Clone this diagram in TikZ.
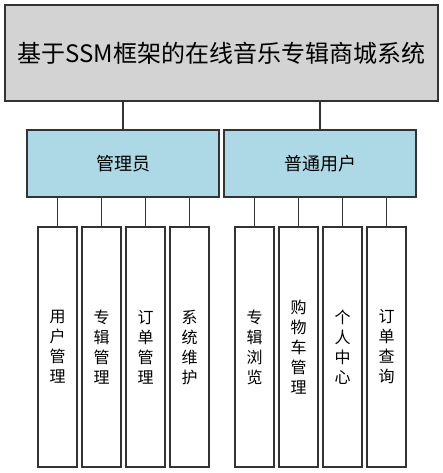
\documentclass[tikz,border=0pt]{standalone}
\usepackage{fontspec}
\setmainfont{Noto Sans CJK SC}
\usetikzlibrary{positioning}
\definecolor{boxgray}{RGB}{211,211,211}
\definecolor{boxblue}{RGB}{173,216,230}
\definecolor{linegray}{RGB}{51,51,51}

\begin{document}
\begin{tikzpicture}[x=1pt,y=-1pt,
  sysbox/.style={draw=linegray, line width=1.2pt, fill=boxgray, minimum width=433pt, minimum height=96pt, inner sep=0pt, font=\fontsize{24}{28}\selectfont},
  rolebox/.style={draw=linegray, line width=1.2pt, fill=boxblue, minimum width=192pt, minimum height=67pt, inner sep=0pt, font=\fontsize{18}{22}\selectfont},
  funcbox/.style={draw=linegray, line width=1.2pt, fill=white, minimum width=39pt, minimum height=240pt, inner sep=0pt, align=center, font=\fontsize{16}{20}\selectfont},
  link/.style={draw=linegray, line width=1.2pt}]
\useasboundingbox (0,0) rectangle (443,473);

% System
\node[sysbox] (sys) at (221.5,53) {基于SSM框架的在线音乐专辑商城系统};

% Roles
\node[rolebox] (admin) at (123,163.5) {管理员};
\node[rolebox] (user) at (320,163.5) {普通用户};
\draw[link] (admin.north) -- (admin.north |- sys.south);
\draw[link] (user.north) -- (user.north |- sys.south);

% Functions
\foreach \name/\x/\txt/\role in {
    usermgr/57.5/{用\\户\\管\\理}/admin,
    albummgr/101.5/{专\\辑\\管\\理}/admin,
    ordermgr/145.5/{订\\单\\管\\理}/admin,
    sysmaint/189.5/{系\\统\\维\\护}/admin,
    browse/254.5/{专\\辑\\浏\\览}/user,
    cart/298.5/{购\\物\\车\\管\\理}/user,
    center/342.5/{个\\人\\中\\心}/user,
    query/386.5/{订\\单\\查\\询}/user} {
    \node[funcbox] (\name) at (\x,347) {\txt};
    \draw[link] (\name.north) -- (\name.north |- \role.south);
}
\end{tikzpicture}
\end{document}
